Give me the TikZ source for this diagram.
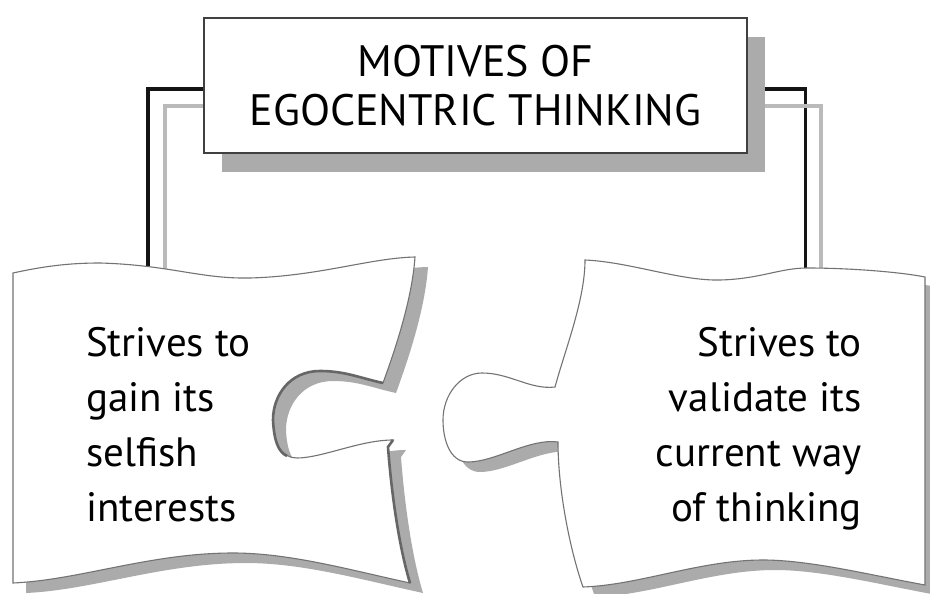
\documentclass[tikz,border=0pt]{standalone}
\usepackage{fontspec}
\setmainfont{PT Sans}
\usetikzlibrary{shadows}
\pgfdeclarelayer{background}
\pgfdeclarelayer{canvas}
\pgfsetlayers{canvas,background,main}
\begin{document}
\begin{tikzpicture}[x=1pt,y=-1pt,
  conn/.style={line width=3.6pt},
  connb/.style={conn,draw=black!92},
  conng/.style={conn,draw=black!27},
  shadowfill/.style={fill=black!33,draw=none},
  piece/.style={fill=white,draw=black!55,line width=1.1pt},
  slotedge/.style={draw=black!60,line width=2.6pt},
  titlebox/.style={draw=black!75,line width=2pt,fill=white,
    minimum width=543pt,minimum height=135pt,inner sep=0pt,align=center,
    font=\fontsize{44}{49}\selectfont,
    drop shadow={shadow xshift=18pt,shadow yshift=-19pt,fill=black!33,opacity=1}},
  body/.style={font=\fontsize{41}{55}\selectfont,inner sep=0pt},
]
\useasboundingbox (0,0) rectangle (930,594);
\begin{pgfonlayer}{canvas}
\fill[white] (0,0) rectangle (930,594);
\end{pgfonlayer}

\def\leftpiece{(13,273) .. controls (45,266) and (70,263) .. (100,263)
  .. controls (170,265) and (200,279) .. (250,278)
  .. controls (320,276) and (370,258) .. (415,257)
  .. controls (412,300) and (395,350) .. (383,383)
  .. controls (360,378) and (345,371) .. (320,371)
  .. controls (290,371) and (273,395) .. (273,420)
  .. controls (274,445) and (282,458) .. (297,458)
  .. controls (322,458) and (360,440) .. (393,440)
  -- (388,447)
  .. controls (392,500) and (400,550) .. (410,583)
  .. controls (350,570) and (290,553) .. (233,553)
  .. controls (150,553) and (80,580) .. (13,583) -- cycle}
\def\rightpiece{(585,260) .. controls (630,262) and (680,281) .. (720,280)
  .. controls (760,279) and (780,268) .. (807,268)
  .. controls (850,268) and (900,272) .. (925,277)
  -- (925,585)
  .. controls (870,575) and (810,560) .. (763,560)
  .. controls (700,560) and (640,585) .. (583,587)
  .. controls (570,550) and (558,490) .. (558,442)
  .. controls (530,438) and (495,462) .. (468,462)
  .. controls (450,462) and (443,440) .. (443,420)
  .. controls (443,395) and (460,373) .. (482,373)
  .. controls (510,373) and (530,390) .. (555,387)
  .. controls (565,350) and (585,300) .. (585,260) -- cycle}

\node[titlebox] (title) at (475.5,85.5) {MOTIVES OF\\EGOCENTRIC THINKING};

\coordinate (lb) at (148,280);
\coordinate (lg) at (165,280);
\coordinate (rb) at (805.5,285);
\coordinate (rg) at (821,285);

\begin{pgfonlayer}{background}
  \draw[connb] ([yshift=-3.5pt]title.west) -| (lb);
  \draw[conng] ([yshift=-20.5pt]title.west) -| (lg);
  \draw[connb] ([yshift=-3.5pt]title.east) -| (rb);
  \draw[conng] ([yshift=-20.5pt]title.east) -| (rg);
\end{pgfonlayer}

% left piece
\fill[shadowfill,shift={(13,10)}] \leftpiece;
\filldraw[piece] \leftpiece;
\draw[slotedge] (383,383) .. controls (360,378) and (345,371) .. (320,371)
  .. controls (290,371) and (273,395) .. (273,420)
  .. controls (274,440) and (278,452) .. (287,456);
\draw[slotedge] (393,440) -- (388,447)
  .. controls (392,500) and (400,550) .. (410,583);

% right piece
\fill[shadowfill,shift={(12,10)}] \rightpiece;
\filldraw[piece] \rightpiece;

\node[body,anchor=north west,align=left] (lt) at (86,327)
  {Strives to\\gain its\\selfish\\interests};
\node[body,anchor=north east,align=right] (rt) at (862,327)
  {Strives to\\validate its\\current way\\of thinking};
\end{tikzpicture}
\end{document}
